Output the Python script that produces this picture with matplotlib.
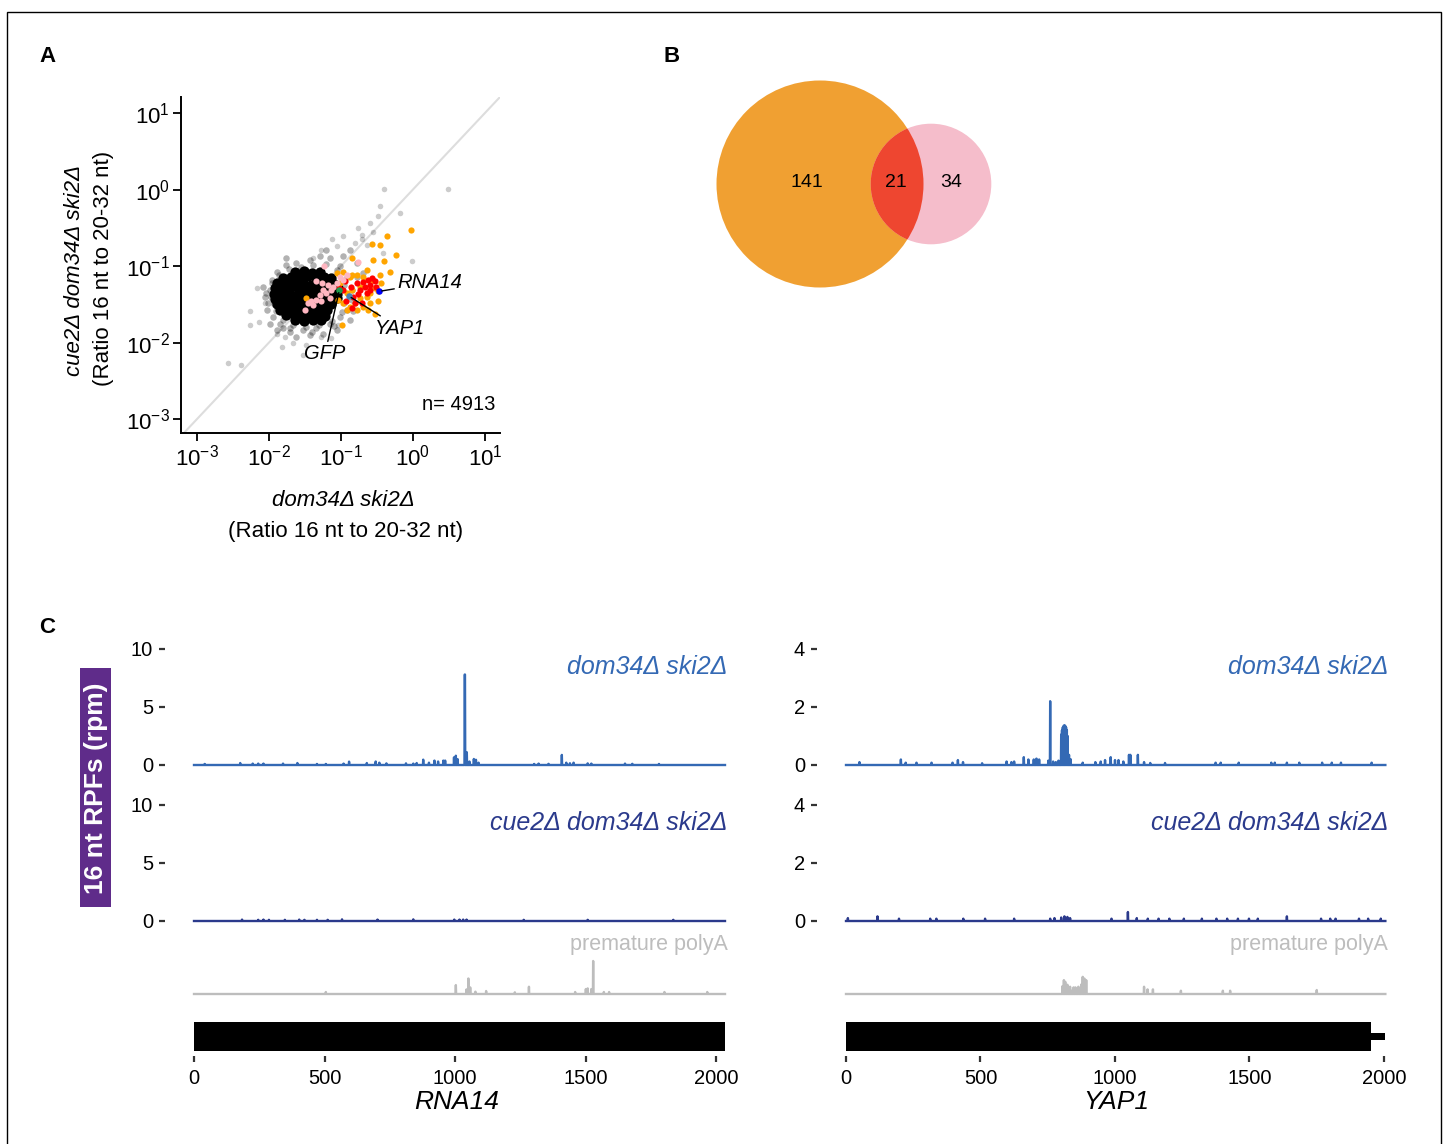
import numpy as np
import matplotlib
matplotlib.use("Agg")
import matplotlib.pyplot as plt
from matplotlib.patches import Circle, Rectangle

plt.rcParams['font.family'] = ['Liberation Sans', 'DejaVu Sans']
plt.rcParams['mathtext.fontset'] = 'custom'
plt.rcParams['mathtext.rm'] = 'Liberation Sans'
plt.rcParams['mathtext.it'] = 'Liberation Sans:italic'

# ---------------- panel A data (log10 ratios) ----------------
# outlying grey genes
out_x = [0.49, -0.40, -0.45, -0.48, -0.18, -0.60, -0.76, -0.55, -0.70, -0.97, -1.12, -0.81,
         -0.01, -1.39, -2.16, -2.26, -2.26, -2.13, -2.57, -2.38, -1.82, -1.52, -1.13, -1.48,
         -1.78, -0.71, -0.64, -0.41, -1.06, -1.27, -2.06, -1.89, -1.66, -1.27, -1.04]
out_y = [0.01, 0.01, -0.22, -0.35, -0.30, -0.44, -0.50, -0.55, -0.64, -0.60, -0.64, -0.70,
         -0.93, -0.89, -1.28, -1.58, -1.77, -1.73, -2.27, -2.29, -2.06, -2.16, -1.94, -2.03,
         -1.92, -0.59, -0.72, -0.83, -0.74, -0.79, -1.48, -1.88, -2.01, -1.92, -1.77]
# edge of the main cloud
halo_x = [-1.99, -2.01, -1.94, -1.85, -1.71, -1.52, -1.34, -1.15, -1.01, -0.92, -0.85, -0.85,
          -0.92, -1.01, -1.15, -1.29, -1.43, -1.62, -1.76, -1.89, -1.96, -2.06, -2.03, -1.89,
          -1.62, -1.25, -1.06, -0.88, -0.78, -0.97, -0.88, -1.20, -0.78, -0.69, -1.76, -2.08,
          -1.99, -1.43, -1.80, -0.83, -1.95, -1.97, -1.90, -1.80, -1.66, -1.48, -1.30, -1.12,
          -0.98, -0.96, -1.05, -1.20, -1.38, -1.56, -1.72, -1.86, -1.93, -2.04, -1.70, -1.40,
          -1.10, -0.95]
halo_y = [-1.31, -1.48, -1.66, -1.75, -1.81, -1.83, -1.81, -1.75, -1.66, -1.57, -1.44, -1.31,
          -1.14, -1.00, -0.90, -0.87, -0.92, -0.96, -0.98, -1.07, -1.18, -1.40, -1.57, -1.83,
          -1.92, -1.88, -1.83, -1.70, -1.14, -0.87, -0.79, -0.79, -0.96, -1.09, -0.90, -1.27,
          -1.75, -1.90, -1.81, -1.59, -1.22, -1.40, -1.58, -1.70, -1.77, -1.79, -1.77, -1.72,
          -1.60, -1.24, -1.05, -0.97, -0.99, -1.01, -1.04, -1.12, -1.50, -1.35, -1.86, -1.86,
          -1.78, -1.48]
# dense core of the cloud
core_x = [-1.63, -1.51, -1.40, -1.29,
          -1.80, -1.69, -1.57, -1.46, -1.35, -1.23, -1.13,
          -1.88, -1.76, -1.65, -1.53, -1.42, -1.31, -1.20, -1.09,
          -1.92, -1.81, -1.70, -1.58, -1.47, -1.36, -1.25, -1.14, -1.04,
          -1.93, -1.82, -1.71, -1.60, -1.49, -1.38, -1.27, -1.16, -1.06,
          -1.92, -1.81, -1.70, -1.59, -1.48, -1.37, -1.26, -1.15, -1.06,
          -1.89, -1.78, -1.67, -1.56, -1.45, -1.34, -1.23, -1.13,
          -1.84, -1.73, -1.62, -1.51, -1.40, -1.29, -1.19,
          -1.76, -1.65, -1.54, -1.43, -1.32, -1.22,
          -1.63, -1.51, -1.39, -1.28]
core_y = [-1.08, -1.06, -1.09, -1.07,
          -1.16, -1.14, -1.15, -1.13, -1.16, -1.14, -1.15,
          -1.22, -1.23, -1.21, -1.22, -1.24, -1.21, -1.22, -1.23,
          -1.29, -1.30, -1.28, -1.29, -1.31, -1.28, -1.30, -1.29, -1.28,
          -1.36, -1.35, -1.37, -1.36, -1.35, -1.37, -1.36, -1.35, -1.37,
          -1.43, -1.44, -1.42, -1.43, -1.44, -1.42, -1.43, -1.44, -1.42,
          -1.50, -1.49, -1.51, -1.50, -1.49, -1.51, -1.50, -1.49,
          -1.57, -1.58, -1.56, -1.57, -1.58, -1.56, -1.57,
          -1.64, -1.63, -1.65, -1.64, -1.63, -1.65,
          -1.71, -1.72, -1.70, -1.71]

orange_x = [-0.02, -0.36, -0.57, -0.45, -0.24, -0.40, -0.85, -0.55, -1.06, -0.97, -0.88, -0.78,
            -0.69, -0.55, -0.46, -0.32, -0.44, -0.53, -0.60, -0.48, -0.64, -0.74, -0.81, -0.88,
            -0.97, -0.92, -0.78, -0.69, -0.60, -0.53, -0.62, -0.99, -0.85, -1.01, -1.04, -0.92,
            -1.48, -0.48, -0.64, -0.74, -0.85]
orange_y = [-0.53, -0.61, -0.71, -0.72, -0.86, -0.93, -0.90, -0.92, -1.09, -1.08, -1.14, -1.11,
            -1.14, -1.18, -1.11, -1.08, -1.22, -1.29, -1.35, -1.33, -1.40, -1.42, -1.48, -1.53,
            -1.48, -1.57, -1.57, -1.53, -1.48, -1.62, -1.57, -1.77, -1.11, -1.22, -1.44, -1.35,
            -1.42, -1.46, -1.05, -1.27, -1.31]
red_x = [-0.94, -0.86, -0.78, -0.69, -0.62, -0.57, -0.67, -0.60, -0.73, -0.97, -0.83, -0.93,
         -0.81, -0.71, -0.85, -0.76, -0.53, -0.64, -1.02, -0.60, -0.51]
red_y = [-1.20, -1.27, -1.22, -1.21, -1.18, -1.16, -1.27, -1.31, -1.31, -1.31, -1.40, -1.46,
         -1.48, -1.48, -1.55, -1.36, -1.20, -1.35, -1.29, -1.24, -1.27]
pink_x = [-1.24, -0.76, -1.34, -1.26, -1.18, -1.06, -1.13, -1.20, -1.29, -1.34, -1.41, -1.45,
          -1.50, -1.38, -0.97, -0.92, -1.11, -1.25, -1.01, -1.27, -1.15]
pink_y = [-1.00, -0.95, -1.19, -1.22, -1.24, -1.22, -1.31, -1.35, -1.38, -1.44, -1.46, -1.48,
          -1.57, -1.51, -1.18, -1.11, -1.27, -1.31, -1.14, -1.46, -1.42]

# highlighted genes: name, x, y, colour, label x, label y
highlight = [("GFP", -1.02, -1.31, "#1E9B4E", -1.22, -2.02),
             ("YAP1", -0.89, -1.39, "#4682B4", -0.53, -1.81),
             ("RNA14", -0.47, -1.33, "#0000FF", -0.22, -1.22)]
n_genes = 4913

# ---------------- panel B data ----------------
only_a, both, only_b = 141, 21, 34

# ---------------- panel C data ----------------
rna14_len = 2034
yap1_cds = 1953
yap1_len = 2005

rna14_ds_pos = [41, 177, 225, 246, 266, 341, 396, 471, 505, 573, 594, 662, 696, 710, 737, 812,
                840, 853, 878, 900, 921, 935, 955, 962, 996, 1003, 1010, 1037, 1038, 1045, 1055,
                1072, 1080, 1090, 1303, 1320, 1358, 1409, 1426, 1440, 1454, 1508, 1522, 1651,
                1679, 1781]
rna14_ds_val = [0.09, 0.17, 0.12, 0.12, 0.12, 0.12, 0.17, 0.09, 0.09, 0.12, 0.29, 0.17, 0.30,
                0.20, 0.14, 0.14, 0.12, 0.17, 0.46, 0.20, 0.38, 0.30, 0.38, 0.38, 0.66, 0.80,
                0.50, 7.8, 7.8, 1.1, 0.30, 0.52, 0.45, 0.20, 0.09, 0.12, 0.10, 0.87, 0.20, 0.15,
                0.20, 0.14, 0.12, 0.12, 0.10, 0.09]

rna14_cue_pos = [184, 246, 266, 287, 348, 403, 423, 471, 512, 567, 703, 840, 997, 1017, 1031,
                 1044, 1263, 1508, 1836]
rna14_cue_val = [0.12, 0.10, 0.12, 0.10, 0.10, 0.12, 0.10, 0.10, 0.10, 0.14, 0.12, 0.14, 0.12,
                 0.12, 0.12, 0.12, 0.10, 0.10, 0.10]

rna14_pa_pos = [505, 1003, 1044, 1051, 1058, 1078, 1119, 1229, 1283, 1460, 1501, 1508, 1522,
                1529, 1570, 1590, 1802, 1966]
rna14_pa_val = [0.3, 1.35, 0.7, 2.35, 1.0, 0.35, 0.45, 0.25, 1.1, 0.3, 0.75, 0.85, 0.75, 5.0,
                0.3, 0.3, 0.3, 0.3]

yap1_ds_pos = [50, 204, 222, 262, 318, 396, 416, 435, 506, 597, 615, 625, 661, 678, 698, 708,
               718, 752, 759, 770, 780, 790, 800, 803, 806, 809, 812, 815, 818, 821, 824, 829,
               835, 880, 927, 947, 963, 984, 1000, 1013, 1031, 1052, 1057, 1085, 1108, 1131,
               1186, 1374, 1393, 1460, 1581, 1594, 1639, 1685, 1770, 1806, 1840, 1954]
yap1_ds_val = [0.10, 0.19, 0.08, 0.08, 0.08, 0.08, 0.17, 0.10, 0.06, 0.12, 0.10, 0.12, 0.27,
               0.19, 0.19, 0.22, 0.19, 0.15, 2.2, 0.12, 0.10, 0.15, 1.05, 1.2, 1.3, 1.35, 1.37,
               1.35, 1.3, 1.2, 1.0, 0.35, 0.20, 0.08, 0.10, 0.12, 0.17, 0.27, 0.17, 0.17, 0.12,
               0.35, 0.35, 0.35, 0.10, 0.07, 0.07, 0.08, 0.08, 0.08, 0.08, 0.08, 0.08, 0.08,
               0.08, 0.08, 0.08, 0.08]

yap1_cue_pos = [7, 117, 197, 313, 336, 436, 517, 625, 759, 775, 800, 812, 823, 833, 987, 1048,
                1081, 1122, 1162, 1202, 1256, 1323, 1377, 1417, 1457, 1498, 1531, 1639, 1766,
                1800, 1820, 1907, 1941, 1988]
yap1_cue_val = [0.10, 0.16, 0.08, 0.08, 0.08, 0.08, 0.08, 0.08, 0.08, 0.10, 0.12, 0.16, 0.14,
                0.10, 0.08, 0.31, 0.10, 0.08, 0.08, 0.08, 0.08, 0.08, 0.08, 0.08, 0.08, 0.08,
                0.08, 0.16, 0.08, 0.08, 0.08, 0.08, 0.08, 0.08]

yap1_pa_pos = [805, 810, 815, 823, 833, 840, 846, 853, 864, 870, 876, 880, 886, 893, 1108, 1121,
               1141, 1245, 1401, 1428, 1750]
yap1_pa_val = [1.2, 2.1, 1.85, 1.4, 1.1, 0.5, 1.0, 1.0, 1.1, 0.6, 1.5, 2.6, 2.35, 2.1, 1.1, 0.7,
               0.7, 0.5, 0.5, 0.5, 0.6]

C_DS = "#3469B4"
C_CUE = "#2B3A8C"
C_PA = "#BDBDBD"

W, H = 1444, 1144
fig = plt.figure(figsize=(W / 100, H / 100), dpi=100)


def px_axes(x0, y0, x1, y1):
    return fig.add_axes([x0 / W, 1 - y1 / H, (x1 - x0) / W, (y1 - y0) / H])


def ftext(x, y, s, **kw):
    kw.setdefault("ha", "center")
    kw.setdefault("va", "center")
    return fig.text(x / W, 1 - y / H, s, **kw)


# ---------------- panel A ----------------
ax = px_axes(181, 97, 500, 433)
ax.set_xscale("log")
ax.set_yscale("log")
ax.set_xlim(10 ** -3.22, 10 ** 1.21)
ax.set_ylim(10 ** -3.18, 10 ** 1.21)
ax.axline((1, 1), (10, 10), color="#DDDDDD", lw=1.5, zorder=1)

p10 = lambda v: 10 ** np.asarray(v)
ax.scatter(p10(out_x), p10(out_y), s=16, color="black", alpha=0.2, lw=0, zorder=2)
ax.scatter(p10(halo_x), p10(halo_y), s=22, color="black", alpha=0.3, lw=0, zorder=2)
ax.scatter(p10(core_x), p10(core_y), s=55, color="black", alpha=1.0, lw=0, zorder=2)
ax.scatter(p10(orange_x), p10(orange_y), s=20, color="#FFA500", lw=0, zorder=3)
ax.scatter(p10(red_x), p10(red_y), s=20, color="#FF0000", lw=0, zorder=4)
ax.scatter(p10(pink_x), p10(pink_y), s=20, color="#FFB6C1", lw=0, zorder=4)
for name, gx, gy, col, lx, ly in highlight:
    ax.scatter([10 ** gx], [10 ** gy], s=22, color=col, lw=0, zorder=5)
    va = "top" if name == "GFP" else "center"
    ha = "center" if name == "GFP" else "left"
    ax.annotate(name, xy=(10 ** gx, 10 ** gy), xytext=(10 ** lx, 10 ** ly),
                ha=ha, va=va, fontsize=14.5, style="italic", zorder=6,
                arrowprops=dict(arrowstyle="-", color="black", lw=1.0,
                                shrinkA=0, shrinkB=2))
ax.text(0.987, 0.086, f"n= {n_genes}", transform=ax.transAxes, ha="right", va="center",
        fontsize=14.5)

dec = [-3, -2, -1, 0, 1]
ax.set_xticks([10.0 ** d for d in dec])
ax.set_xticklabels([f"$10^{{{d}}}$" for d in dec])
ax.set_yticks([10.0 ** d for d in dec])
ax.set_yticklabels([f"$10^{{{d}}}$" for d in dec])
ax.minorticks_off()
ax.tick_params(length=6, width=1.3, labelsize=16, pad=2)
for s in ["top", "right"]:
    ax.spines[s].set_visible(False)
for s in ["left", "bottom"]:
    ax.spines[s].set_linewidth(1.4)

ftext(75, 270, "cue2Δ dom34Δ ski2Δ", rotation=90, style="italic", fontsize=16)
ftext(103, 268, "(Ratio 16 nt to 20-32 nt)", rotation=90, fontsize=16)
ftext(343, 500, "dom34Δ ski2Δ", style="italic", fontsize=16)
ftext(346, 531, "(Ratio 16 nt to 20-32 nt)", fontsize=16)

# ---------------- panel B ----------------
axv = px_axes(700, 70, 1010, 300)
axv.set_xlim(700, 1010)
axv.set_ylim(300, 70)
axv.set_aspect("equal")
axv.axis("off")
k = 103.5 / np.sqrt(only_a + both)
r_a = k * np.sqrt(only_a + both)
r_b = k * np.sqrt(only_b + both)
ca, cb = (820, 184), (931, 184)
circ_a = Circle(ca, r_a, fc="#F0A032", ec="none")
axv.add_patch(circ_a)
axv.add_patch(Circle(cb, r_b, fc="#F5BDCB", ec="none"))
lens = Circle(cb, r_b, fc="#EE4630", ec="none")
axv.add_patch(lens)
lens.set_clip_path(circ_a)
axv.text(807, 182, str(only_a), ha="center", va="center", fontsize=14)
axv.text(896, 182, str(both), ha="center", va="center", fontsize=14)
axv.text(951, 182, str(only_b), ha="center", va="center", fontsize=14)

# ---------------- panel C ----------------


def track(x0, x1, y0, y1, length, pos, vals, color, ylim, ticks=None, label=None,
          lstyle="italic", lsize=18):
    a = px_axes(x0, y0, x1, y1)
    prof = np.zeros(length + 1)
    prof[pos] = vals
    a.plot(np.arange(length + 1), prof, color=color, lw=1.7, clip_on=False)
    a.set_xlim(0, length)
    a.set_ylim(*ylim)
    a.set_xticks([])
    for s in ["top", "right", "bottom"]:
        a.spines[s].set_visible(False)
    a.spines["left"].set_position(("outward", 21))
    a.spines["left"].set_visible(False)
    if ticks is None:
        a.set_yticks([])
    else:
        a.set_yticks(ticks)
        a.set_yticklabels([str(t) for t in ticks])
        a.tick_params(axis="y", length=4.5, width=1.6, color="#333333", labelsize=14.5, pad=4)
    if label:
        a.text(1.005, 0.845, label, transform=a.transAxes, ha="right", va="center",
               color=color, style=lstyle, fontsize=lsize)
    a.patch.set_alpha(0)
    return a


def gene(x0, x1, length, cds, name, title_x):
    a = px_axes(x0, 1022, x1, 1051)
    a.barh(0.5, cds, left=0, height=1.0, color="black")
    if length > cds:
        a.barh(0.5, length - cds, left=cds, height=0.22, color="black")
    a.set_xlim(0, length)
    a.set_ylim(0, 1)
    a.set_yticks([])
    for s in ["top", "right", "left"]:
        a.spines[s].set_visible(False)
    a.spines["bottom"].set_position(("outward", 3.5))
    a.spines["bottom"].set_visible(False)
    a.set_xticks([0, 500, 1000, 1500, 2000])
    a.tick_params(axis="x", length=4.5, width=1.6, color="#333333", labelsize=14.5, pad=5)
    ftext(title_x, 1102, name, style="italic", fontsize=19)


# left gene RNA14
lx0, lx1 = 194, 725
track(lx0, lx1, 649, 765, rna14_len, rna14_ds_pos, rna14_ds_val, C_DS, (0, 10), [0, 5, 10],
      "dom34Δ ski2Δ")
track(lx0, lx1, 805, 921, rna14_len, rna14_cue_pos, rna14_cue_val, C_CUE, (0, 10), [0, 5, 10],
      "cue2Δ dom34Δ ski2Δ")
track(lx0, lx1, 935, 994, rna14_len, rna14_pa_pos, rna14_pa_val, C_PA, (0, 8.94), None,
      "premature polyA", "normal", 15.5)
gene(lx0, lx1, rna14_len, rna14_len, "RNA14", 457)

# right gene YAP1
rx0 = 846
rx1 = rx0 + yap1_len * 0.269
track(rx0, rx1, 649, 765, yap1_len, yap1_ds_pos, yap1_ds_val, C_DS, (0, 4), [0, 2, 4],
      "dom34Δ ski2Δ")
track(rx0, rx1, 805, 921, yap1_len, yap1_cue_pos, yap1_cue_val, C_CUE, (0, 4), [0, 2, 4],
      "cue2Δ dom34Δ ski2Δ")
track(rx0, rx1, 935, 994, yap1_len, yap1_pa_pos, yap1_pa_val, C_PA, (0, 8.94), None,
      "premature polyA", "normal", 15.5)
gene(rx0, rx1, yap1_len, yap1_cds, "YAP1", 1116)

# shared y label
fig.add_artist(Rectangle((80 / W, 1 - 907 / H), 31 / W, 239 / H, transform=fig.transFigure,
                         fc="#5F2C8A", ec="none"))
ftext(96, 788, "16 nt RPFs (rpm)", rotation=90, color="white", fontweight="bold", fontsize=19)

# panel letters and frame
ftext(47, 57, "A", fontweight="bold", fontsize=16)
ftext(672, 57, "B", fontweight="bold", fontsize=16)
ftext(47, 627, "C", fontweight="bold", fontsize=16)
fig.add_artist(Rectangle((7 / W, 1 - 1150 / H), 1434 / W, 1138 / H, transform=fig.transFigure,
                         fill=False, ec="black", lw=1.0))

fig.savefig("out.png", dpi=100)
